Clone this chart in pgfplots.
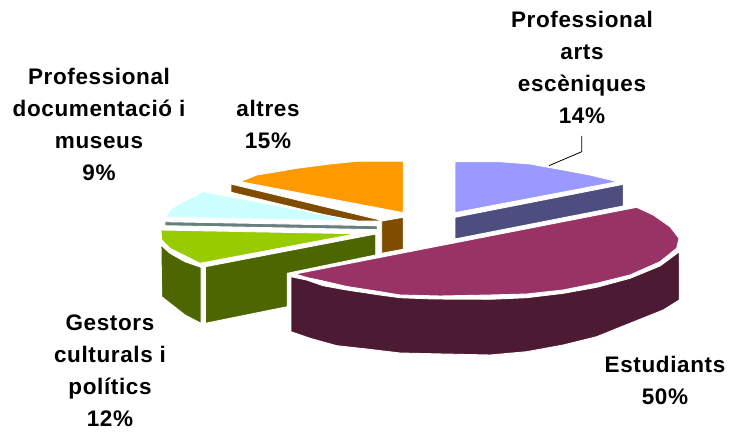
\documentclass[border=0pt]{standalone}
\usepackage{pgfplots}
\pgfplotsset{compat=1.18}
\usepackage{fontspec}
\setmainfont{Liberation Sans}[LetterSpace=2.8]
\definecolor{cOr}{HTML}{FF9900}
\definecolor{cBr}{HTML}{804D00}
\definecolor{cLb}{HTML}{CCFFFF}
\definecolor{cGy}{HTML}{667F7F}
\definecolor{cGr}{HTML}{99CC00}
\definecolor{cDg}{HTML}{4D6600}
\definecolor{cMg}{HTML}{993366}
\definecolor{cDm}{HTML}{4D1A33}
\definecolor{cBl}{HTML}{9999FF}
\definecolor{cDb}{HTML}{4D4D80}
\tikzset{lbl/.style={overlay, font=\fontsize{22.5}{32}\selectfont\bfseries, align=center, text=black, inner sep=0pt, anchor=center}}
\begin{document}
\begin{tikzpicture}[x=1pt,y=1pt]
\begin{axis}[
  scale only axis, width=729pt, height=435pt,
  xmin=0, xmax=729, ymin=0, ymax=435, y dir=reverse,
  hide axis, clip=false,
  every axis plot/.append style={line width=0.9pt, draw=white, line join=round}]
\path (axis cs:0,0) rectangle (axis cs:729,435);
\addplot[fill=cOr] coordinates {(240,181.7)(256.7,175)(273.3,172.3)(296.7,168.3)(330,164)(356.7,161.3)(403.3,161.3)(403.3,212.7)} --cycle;
\addplot[fill=cBr] coordinates {(231,184)(380,220)(380,221)(350,221)(231,192.3)} --cycle;
\addplot[fill=cBr] coordinates {(381.7,221)(403.3,217.3)(403.3,249.3)(381.7,253.3)} --cycle;
\addplot[fill=cLb] coordinates {(165,217.3)(171.7,208.3)(186.7,200)(203.3,191.7)(356.7,221)} --cycle;
\addplot[fill=cGy] coordinates {(165,221.7)(377.3,225.7)(377.3,229.7)(165,225.7)} --cycle;
\addplot[fill=cDg] coordinates {(161,245)(170,253.3)(185,261.7)(201,267.3)(201,323.3)(185,315)(161.7,296.7)} --cycle;
\addplot[fill=cDg] coordinates {(205.3,266.7)(375.7,234)(375.7,255)(287.3,273.3)(287.3,306.7)(205.3,323.3)} --cycle;
\addplot[fill=cGr] coordinates {(161,230)(356.7,233.7)(200,263.3)(186.7,256.7)(170,248.3)(161.7,240)} --cycle;
\addplot[fill=cBl] coordinates {(455,161.7)(500,161.7)(530,164)(563.3,170)(590,175)(617.7,181.7)(455,212.7)} --cycle;
\addplot[fill=cDb] coordinates {(455,217.3)(623.3,184.3)(623.3,206)(455,239)} --cycle;
\addplot[fill=cDm] coordinates {(291,276.7)(306.7,280)(323,285.7)(346.7,290)(380,295)(400,297.7)(433,299)(490,299.3)(526.7,297.7)(563.3,293.3)(596.7,287.3)(630,278.3)(660,266)(679.3,251.7)(679.3,300)(663.3,310)(630,323.3)(596.7,336.7)(563.3,345)(526.7,351.7)(490,355)(443.3,354)(400,353)(366.7,349)(336.7,345.7)(310,338.3)(291,331.7)} --cycle;
\addplot[fill=cMg] coordinates {(295,274)(636.7,207.3)(653.3,215)(670,226.7)(679,238.3)(676.7,248.3)(660,261.7)(630,275)(596.7,283.3)(563.3,290)(526.7,294)(490,295)(440,296)(400,295)(380,291.7)(346.7,286.5)(323,281)(306.7,277.5)} --cycle;
\addplot[draw=black, line width=0.8pt] coordinates {(549,165.7)(581.7,151.7)(581.7,136)};
\node[lbl] at (axis cs:582,67) {Professional\\arts\\escèniques\\14\%};
\node[lbl] at (axis cs:99,124) {Professional\\documentació i\\museus\\9\%};
\node[lbl] at (axis cs:268,124) {altres\\15\%};
\node[lbl] at (axis cs:110,371) {Gestors\\culturals i\\polítics\\12\%};
\node[lbl] at (axis cs:665,380) {Estudiants\\50\%};
\end{axis}
\end{tikzpicture}
\end{document}
